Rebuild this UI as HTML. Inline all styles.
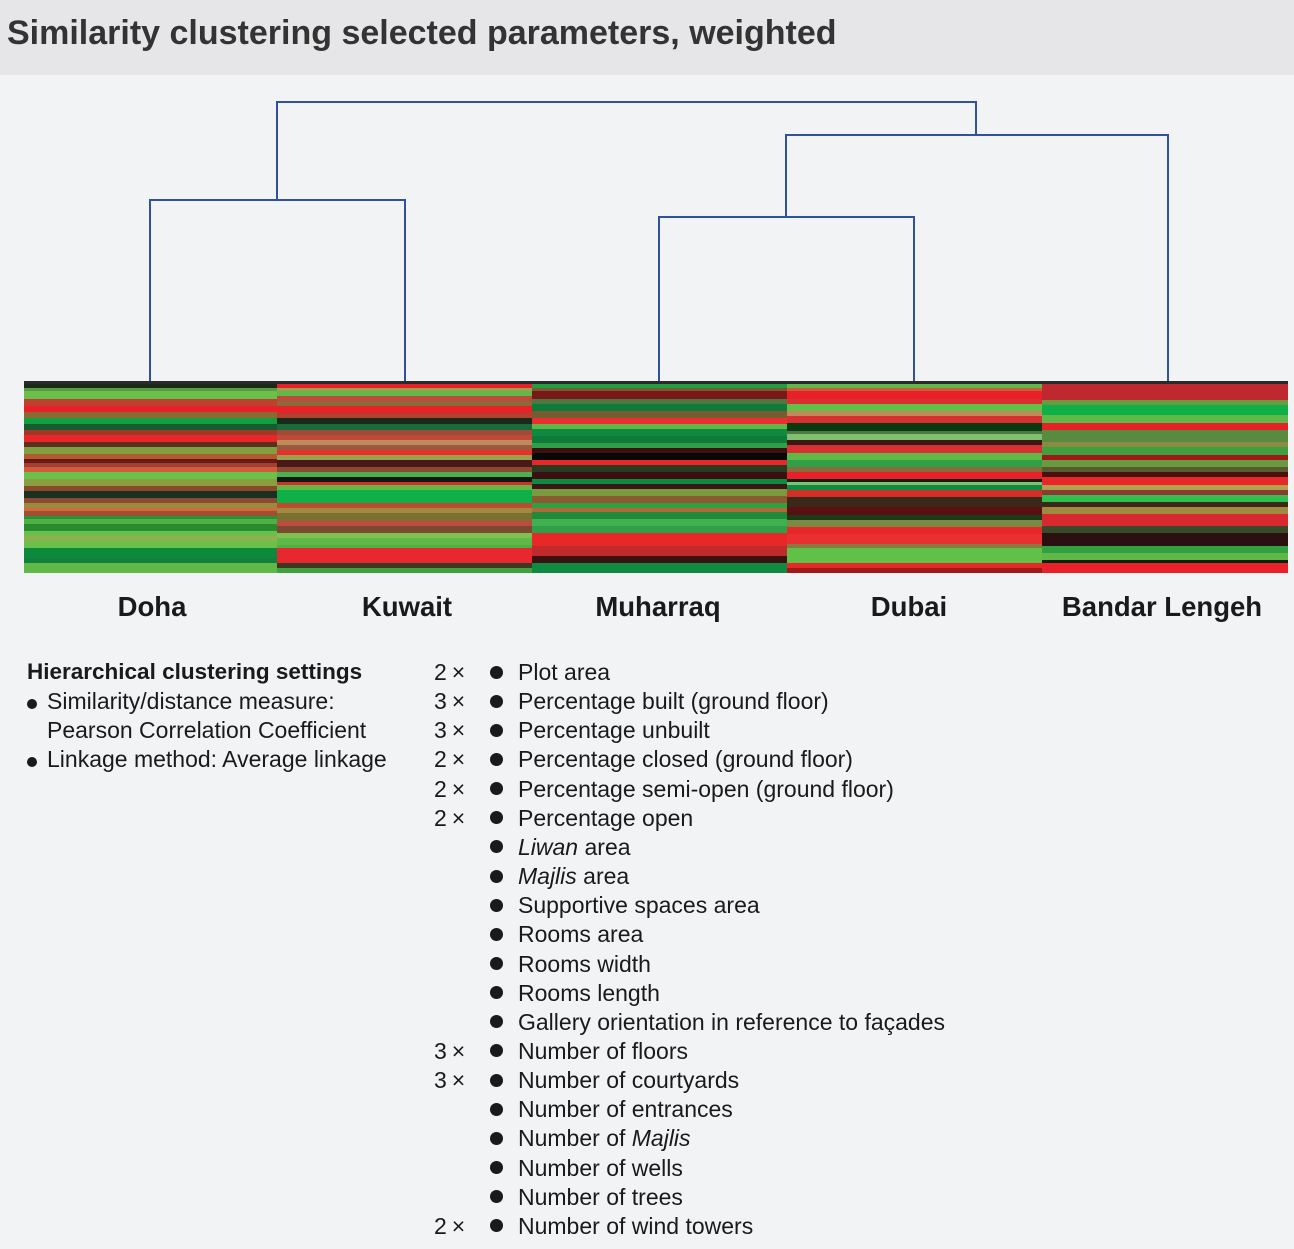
<!DOCTYPE html>
<html><head><meta charset="utf-8"><style>
body{margin:0;width:1294px;height:1249px;background:#f2f3f5;position:relative;overflow:hidden;font-family:"Liberation Sans",sans-serif;color:#1a1a1a}
#hdr{position:absolute;left:0;top:0;width:1294px;height:75px;background:#e6e6e8}
#hdr div{position:absolute;left:7px;top:14px;font-size:34px;font-weight:bold;color:#333;white-space:nowrap}
.col{position:absolute;top:384px;height:189px;display:flex;flex-direction:column}
.col div{flex-shrink:0}
.lab{position:absolute;top:591px;font-size:27.5px;font-weight:bold;transform:translateX(-50%);white-space:nowrap}
.t{position:absolute;font-size:23px;white-space:nowrap;line-height:26px}
.b{position:absolute;width:13px;height:13px;border-radius:50%;background:#1a1a1a}
</style></head><body>
<div id="hdr"><div>Similarity clustering selected parameters, weighted</div></div>
<svg style="position:absolute;left:0;top:0" width="1294" height="600">
<g stroke="#3050a0" stroke-width="2" fill="none">
<path d="M150 381V200H405V381"/>
<path d="M659 381V217H914V381"/>
<path d="M786 217V135H1168V381"/>
<path d="M277 200V102H976V135"/>
</g>
<rect x="24" y="381" width="1264" height="3" fill="#2a2a2a"/>
</svg>
<div class="col" style="left:24px;width:253px" id="c1"></div>
<div class="col" style="left:277px;width:255px" id="c2"></div>
<div class="col" style="left:532px;width:255px" id="c3"></div>
<div class="col" style="left:787px;width:255px" id="c4"></div>
<div class="col" style="left:1042px;width:246px" id="c5"></div>
<script>
var D={
c1:[["#1a2a1a",4],["#5a9a40",3],["#6ac04a",8],["#c04030",7],["#e8202a",6],["#8a6a30",6],["#10a040",6],["#1a5a30",6],["#a03828",5],["#e82828",7],["#5a3020",5],["#80a040",7],["#b05a30",5],["#6a1818",4],["#a04030",4],["#d05a3a",5],["#6ac04a",7],["#8aa040",7],["#8a4a2a",5],["#1a3020",7],["#8a4a30",5],["#9a8a40",5],["#d06a3a",3],["#a05030",5],["#2a9040",3],["#50b040",5],["#2a8a30",7],["#6ac04a",5],["#90b050",5],["#6ac04a",7],["#0a8a3a",10],["#10803a",5],["#60b848",10]],
c2:[["#e82028",4],["#a0a050",3],["#60b848",5],["#c04a3a",5],["#8a6a3a",5],["#e82028",7],["#b04030",5],["#1a2a1a",6],["#1a6a3a",6],["#a04a3a",5],["#c04a38",5],["#c08a5a",5],["#9a5a40",5],["#e8302a",5],["#9aa050",5],["#4a1818",7],["#8a4a30",5],["#4ab050",5],["#101810",5],["#d03028",3],["#60b848",5],["#10b048",13],["#c04a30",5],["#a08a40",5],["#7a7030",7],["#c04a40",5],["#7a4a30",7],["#80c050",5],["#60b848",7],["#50b040",3],["#e82830",15],["#3a3a20",5],["#40a040",5]],
c3:[["#20a040",4],["#7a5a30",3],["#7a1818",8],["#4a7a40",5],["#107a3a",7],["#7a5a30",7],["#e83030",6],["#60b848",6],["#108a40",7],["#107a3a",7],["#30a048",5],["#3a1010",5],["#080808",7],["#e82828",5],["#2a3a20",7],["#3a1010",7],["#108a40",5],["#3a1818",5],["#7a9a40",7],["#8a5a30",7],["#30a040",5],["#b06a3a",5],["#208a3a",7],["#40b050",7],["#30a048",7],["#e82828",13],["#c02a2a",10],["#3a1010",7],["#108a40",10]],
c4:[["#60b848",4],["#d05a3a",3],["#e82028",8],["#d83030",5],["#60c048",7],["#c08a5a",5],["#d83030",7],["#0a3a10",8],["#4a7a40",3],["#80c070",5],["#3a1818",5],["#d83030",8],["#60b848",7],["#30a048",7],["#8a6a3a",5],["#e82028",7],["#102010",3],["#80c070",3],["#108a40",5],["#d03028",7],["#3a2818",10],["#5a1010",8],["#1a3a18",5],["#7a8a40",7],["#e82828",7],["#e83030",10],["#8a7a40",3],["#60c048",15],["#e82828",5],["#a01818",5]],
c5:[["#c02830",16],["#6a9a40",5],["#10b048",10],["#60b848",8],["#e82028",7],["#5a8a40",12],["#8a8a40",5],["#40a040",8],["#a01818",5],["#6a9a40",7],["#5a5a30",5],["#4a1010",5],["#e82828",8],["#b0a050",5],["#8a3a30",5],["#30c050",7],["#3a2818",5],["#a08a40",7],["#d82830",12],["#3a4a28",7],["#2a1010",13],["#30a040",7],["#60b848",7],["#102010",3],["#e82028",10]]};
for(var k in D){var el=document.getElementById(k),s=D[k],tot=0;s.forEach(function(a){tot+=a[1]});s.forEach(function(a){var d=document.createElement('div');d.style.background=a[0];d.style.height=(a[1]*189/tot)+'px';el.appendChild(d);});}
</script>
<div class="lab" style="left:152px">Doha</div>
<div class="lab" style="left:407px">Kuwait</div>
<div class="lab" style="left:658px">Muharraq</div>
<div class="lab" style="left:909px">Dubai</div>
<div class="lab" style="left:1162px">Bandar Lengeh</div>

<div class="t" style="left:27px;top:659px;font-weight:bold;font-size:22.5px">Hierarchical clustering settings</div>
<div class="b" style="left:27px;top:699px;width:10px;height:10px"></div>
<div class="t" style="left:47px;top:688px">Similarity/distance measure:</div>
<div class="t" style="left:47px;top:717px">Pearson Correlation Coefficient</div>
<div class="b" style="left:27px;top:757px;width:10px;height:10px"></div>
<div class="t" style="left:47px;top:746px">Linkage method: Average linkage</div>

<div id="list"></div>
<script>
var items=[["2×","Plot area"],["3×","Percentage built (ground floor)"],["3×","Percentage unbuilt"],["2×","Percentage closed (ground floor)"],["2×","Percentage semi-open (ground floor)"],["2×","Percentage open"],["","<i>Liwan</i> area"],["","<i>Majlis</i> area"],["","Supportive spaces area"],["","Rooms area"],["","Rooms width"],["","Rooms length"],["","Gallery orientation in reference to façades"],["3×","Number of floors"],["3×","Number of courtyards"],["","Number of entrances"],["","Number of <i>Majlis</i>"],["","Number of wells"],["","Number of trees"],["2×","Number of wind towers"]];
var L=document.getElementById('list'),h='';
items.forEach(function(it,i){var y=659+i*29.15;
if(it[0])h+='<div class="t" style="left:434px;top:'+y+'px;letter-spacing:5px">'+it[0]+'</div>';
h+='<div class="b" style="left:490px;top:'+(y+6.5)+'px"></div>';
h+='<div class="t" style="left:518px;top:'+y+'px">'+it[1]+'</div>';});
L.innerHTML=h;
</script>
</body></html>
